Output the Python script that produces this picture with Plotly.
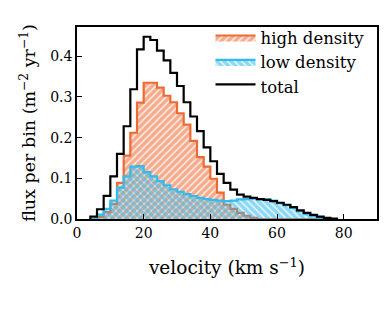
import plotly.graph_objects as go

# bin edges (km/s), 2 km/s bins from 4 to 78
edges = list(range(4, 80, 2))

# flux per bin, one value per bin starting at 4 km/s
total = [0.006, 0.024, 0.057, 0.105, 0.160, 0.228, 0.319, 0.417, 0.448, 0.440,
         0.414, 0.390, 0.359, 0.327, 0.287, 0.252, 0.216, 0.176, 0.142, 0.111,
         0.089, 0.072, 0.060, 0.055, 0.052, 0.049, 0.047, 0.044, 0.040, 0.035,
         0.029, 0.021, 0.015, 0.010, 0.006, 0.003, 0.001]
high = [0.0, 0.005, 0.017, 0.037, 0.089, 0.156, 0.212, 0.286, 0.335, 0.335,
        0.323, 0.303, 0.287, 0.260, 0.232, 0.192, 0.152, 0.129, 0.099, 0.065,
        0.035, 0.025, 0.015, 0.008, 0.003, 0.0, 0.0, 0.0, 0.0, 0.0,
        0.0, 0.0, 0.0, 0.0, 0.0, 0.0, 0.0]
low = [0.0, 0.011, 0.025, 0.045, 0.077, 0.105, 0.129, 0.130, 0.115, 0.105,
       0.093, 0.083, 0.073, 0.067, 0.061, 0.056, 0.052, 0.049, 0.047, 0.045,
       0.044, 0.045, 0.048, 0.049, 0.050, 0.049, 0.048, 0.045, 0.039, 0.034,
       0.027, 0.019, 0.012, 0.007, 0.003, 0.0, 0.0]

orange = "#EE6A33"
cyan = "#33BBEE"
font = "DejaVu Serif"


def step(vals):
    # outline of a step histogram: up from zero, across each bin, back to zero
    xs = [edges[0]] + edges[:-1] + [edges[-1]]
    ys = [0] + vals + [0]
    return xs, ys


fig = go.Figure()

x, y = step(high)
fig.add_trace(go.Scatter(x=x, y=y, name="high density", mode="lines",
                         line=dict(color=orange, width=2.2, shape="hv"),
                         fill="tozeroy", fillcolor="rgba(0,0,0,0)",
                         fillpattern=dict(shape="/", fgcolor=orange,
                                          bgcolor="rgba(238,106,51,0.12)",
                                          size=5, solidity=0.7)))

x, y = step(low)
fig.add_trace(go.Scatter(x=x, y=y, name="low density", mode="lines",
                         line=dict(color=cyan, width=2.2, shape="hv"),
                         fill="tozeroy", fillcolor="rgba(0,0,0,0)",
                         fillpattern=dict(shape="\\", fgcolor=cyan,
                                          bgcolor="rgba(51,187,238,0.12)",
                                          size=5, solidity=0.7)))

x, y = step(total)
fig.add_trace(go.Scatter(x=x, y=y, name="total", mode="lines",
                         line=dict(color="black", width=2.2, shape="hv"),
                         fill="tozeroy", fillcolor="rgba(0,0,0,0)"))

axis = dict(showline=True, linecolor="black", linewidth=1.5, mirror=True,
            ticks="inside", ticklen=5, tickwidth=1.2, tickcolor="black",
            showgrid=False, zeroline=False, automargin=False,
            tickfont=dict(family=font, size=14, color="black"))

# the page body adds an 8 px offset, so margins are shifted by that much
fig.update_layout(
    width=390, height=325,
    margin=dict(l=69, r=21, t=13, b=114),
    plot_bgcolor="white", paper_bgcolor="white",
    font=dict(family=font, size=16, color="black"),
    xaxis=dict(axis, range=[0, 90], tickvals=[0, 20, 40, 60, 80],
               title=dict(text="velocity (km s<sup>−1</sup>)",
                          font=dict(family=font, size=18.5), standoff=22)),
    yaxis=dict(axis, range=[0, 0.472], tickvals=[0, 0.1, 0.2, 0.3, 0.4],
               tickformat=".1f",
               title=dict(text="flux per bin (m<sup>−2</sup> yr<sup>−1</sup>)",
                          font=dict(family=font, size=17.5), standoff=10)),
    showlegend=True,
    legend=dict(x=0.445, y=1.035, xanchor="left", yanchor="top",
                bgcolor="rgba(0,0,0,0)", font=dict(family=font, size=16.5),
                itemwidth=40, tracegroupgap=0),
)

fig.write_html("out.html")
